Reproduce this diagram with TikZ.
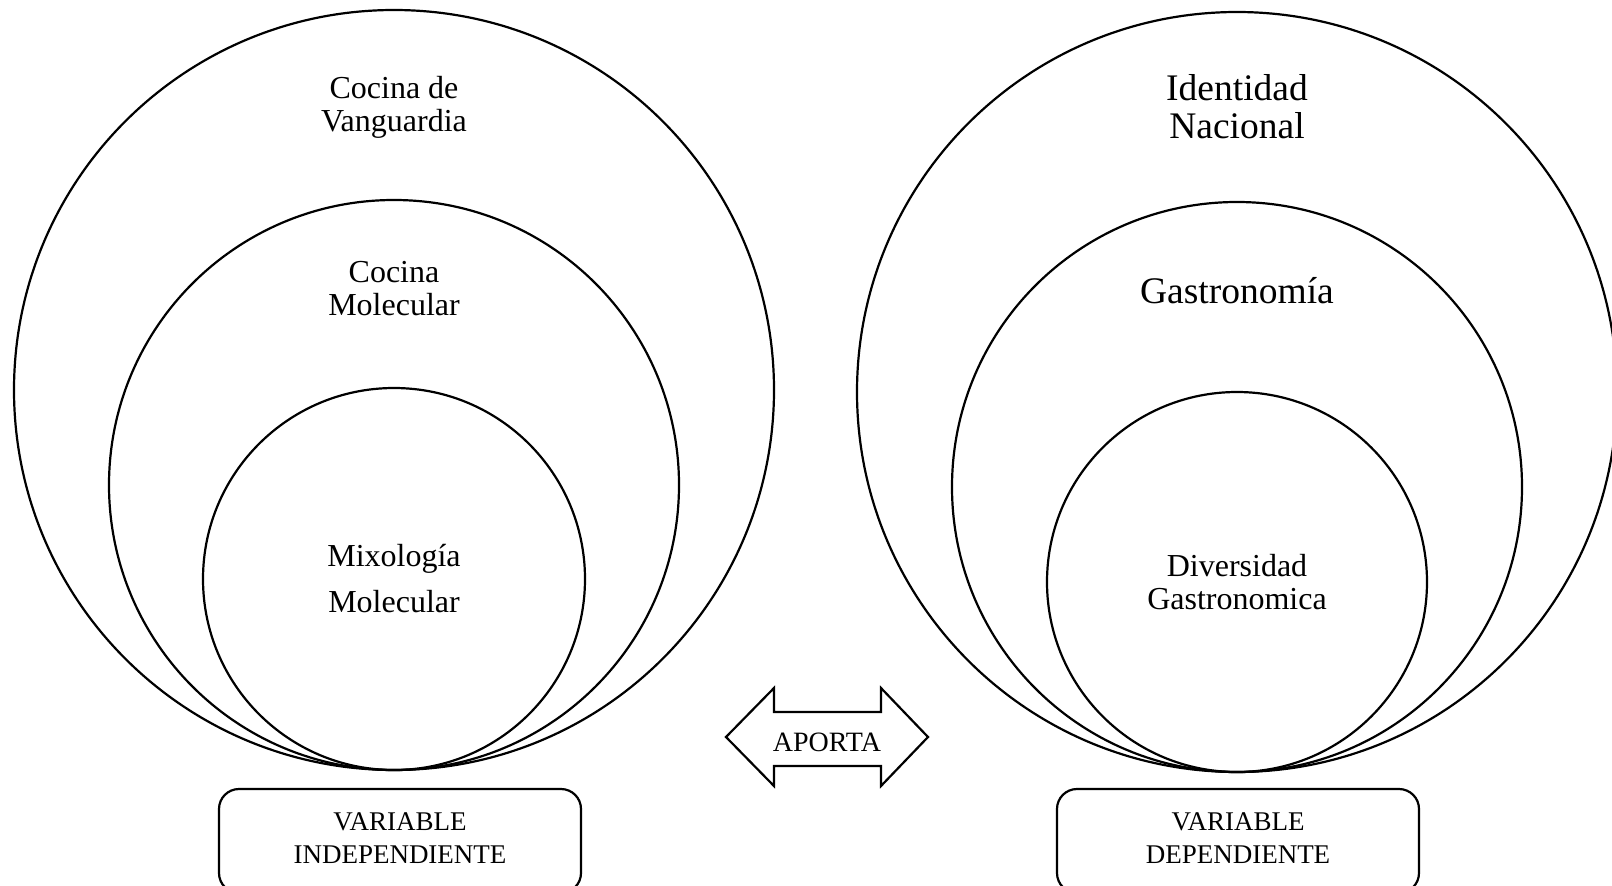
\documentclass[tikz,border=0pt]{standalone}
\usepackage{fontspec}
\setmainfont{Liberation Serif}
\begin{document}
\begin{tikzpicture}[x=1pt,y=-1pt,
  ring/.style={line width=2.2pt},
  lbl/.style={align=center,inner sep=0pt},
  varbox/.style={draw,line width=2.2pt,rounded corners=20pt},
]
\useasboundingbox (0,0) rectangle (1612,886);
% left circles
\draw[ring] (394,390) circle (380);
\draw[ring] (394,485) circle (285);
\draw[ring] (394,579) circle (191);
% right circles
\draw[ring] (1237,392) circle (380);
\draw[ring] (1237,487) circle (285);
\draw[ring] (1237,582) circle (190);
% labels left
\node[lbl,font=\fontsize{32}{33}\selectfont] (cv) at (394,107) {Cocina de\\Vanguardia};
\node[lbl,font=\fontsize{32}{33}\selectfont] (cm) at (394,289) {Cocina\\Molecular};
\node[lbl,font=\fontsize{32}{46}\selectfont] (mm) at (394,579) {Mixología\\Molecular};
% labels right
\node[lbl,font=\fontsize{37.5}{38}\selectfont] (idn) at (1237,107) {Identidad\\Nacional};
\node[lbl,font=\fontsize{37.5}{38}\selectfont] (gas) at (1237,291) {Gastronomía};
\node[lbl,font=\fontsize{32}{33}\selectfont] (dg) at (1237,582) {Diversidad\\Gastronomica};
% arrow
\draw[line width=2.2pt,line join=miter]
  (726,737) -- (774,688) -- (774,712) -- (881,712) -- (881,688) -- (928,737)
  -- (881,786) -- (881,766) -- (774,766) -- (774,786) -- cycle;
\node[lbl,font=\fontsize{28}{30}\selectfont] (ap) at (827,742) {APORTA};
% boxes
\draw[varbox] (219,789) rectangle (581,893);
\draw[varbox] (1057,789) rectangle (1419,893);
\node[lbl,font=\fontsize{27}{33}\selectfont] (vi) at (400,838) {VARIABLE\\INDEPENDIENTE};
\node[lbl,font=\fontsize{27}{33}\selectfont] (vd) at (1238,838) {VARIABLE\\DEPENDIENTE};
\end{tikzpicture}
\end{document}
